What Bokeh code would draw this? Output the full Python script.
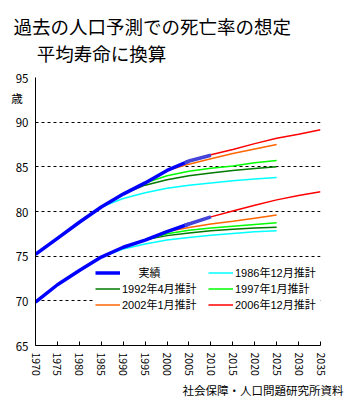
from bokeh.plotting import figure
from bokeh.models import Legend, LegendItem, FixedTicker, Title
from bokeh.embed import file_html
from bokeh.resources import INLINE

# ---- data ----
ACT_YEARS = [1970, 1975, 1980, 1985, 1990, 1995, 2000, 2005]
ACT_FEMALE = [75.2, 77.0, 78.8, 80.5, 81.95, 83.2, 84.6, 85.65]
ACT_MALE = [69.85, 71.8, 73.4, 74.9, 76.0, 76.8, 77.75, 78.6]
RECENT_YEARS = [2004, 2005, 2010]
RECENT_FEMALE = [85.45, 85.65, 86.3]
RECENT_MALE = [78.45, 78.6, 79.4]

P1986_YEARS = [1985, 1990, 1995, 2000, 2005, 2010, 2015, 2020, 2025]
P1986_FEMALE = [80.5, 81.45, 82.1, 82.6, 82.95, 83.2, 83.45, 83.65, 83.8]
P1986_MALE = [74.9, 75.8, 76.35, 76.8, 77.1, 77.35, 77.55, 77.72, 77.85]

P1992_YEARS = [1990, 1995, 2000, 2005, 2010, 2015, 2020, 2025]
P1992_FEMALE = [81.95, 82.95, 83.55, 84.0, 84.3, 84.6, 84.8, 85.0]
P1992_MALE = [76.0, 76.85, 77.3, 77.6, 77.85, 78.0, 78.15, 78.25]

P1997_YEARS = [1995, 2000, 2005, 2010, 2015, 2020, 2025]
P1997_FEMALE = [83.2, 84.0, 84.5, 84.85, 85.1, 85.45, 85.7]
P1997_MALE = [76.8, 77.5, 77.9, 78.15, 78.35, 78.55, 78.75]

P2002_YEARS = [2000, 2005, 2010, 2015, 2020, 2025]
P2002_FEMALE = [84.6, 85.3, 85.9, 86.5, 87.0, 87.5]
P2002_MALE = [77.75, 78.2, 78.6, 78.9, 79.25, 79.6]

P2006_YEARS = [2005, 2010, 2015, 2020, 2025, 2030, 2035]
P2006_FEMALE = [85.65, 86.35, 86.95, 87.6, 88.2, 88.65, 89.15]
P2006_MALE = [78.6, 79.4, 80.05, 80.7, 81.3, 81.8, 82.2]

X_TICKS = list(range(1970, 2036, 5))
Y_TICKS = [65, 70, 75, 80, 85, 90, 95]
UNIT_LEVEL = 92.65          # vertical place of the unit text on the y axis

LABEL_ACT = "\u3000\u2002実績"
LABEL_1986 = "1986年12月推計"
LABEL_1992 = "1992年4月推計"
LABEL_1997 = "1997年1月推計"
LABEL_2002 = "2002年1月推計"
LABEL_2006 = "2006年12月推計"

TITLE1 = "過去の人口予測での死亡率の想定"
TITLE2 = "平均寿命に換算"
UNIT = "歳"
SOURCE = "社会保障・人口問題研究所資料"

FONT = "Noto Sans CJK JP"
LEGEND_FONT = "Liberation Sans, Noto Sans CJK JP"

p = figure(frame_width=285, frame_height=268,
           min_border_left=35, min_border_right=42,
           min_border_top=77, min_border_bottom=55,
           x_range=(1970, 2035), y_range=(65, 95),
           output_backend="svg", toolbar_location=None)
p.outline_line_color = None
p.background_fill_color = "white"
p.border_fill_color = "white"

p.xgrid.grid_line_color = None
p.ygrid.grid_line_color = "black"
p.ygrid.grid_line_dash = "3 3"
p.ygrid.grid_line_width = 1
p.ygrid.ticker = FixedTicker(ticks=Y_TICKS)

p.xaxis.ticker = FixedTicker(ticks=X_TICKS)
p.yaxis.ticker = FixedTicker(ticks=Y_TICKS + [UNIT_LEVEL])
p.yaxis.major_label_overrides = {UNIT_LEVEL: UNIT + "\u2002"}
for ax in (p.xaxis[0], p.yaxis[0]):
    ax.axis_line_color = "black"
    ax.axis_line_width = 1
    ax.major_tick_line_color = "black"
    ax.major_tick_out = 0
    ax.minor_tick_line_color = None
    ax.major_label_text_font = FONT
    ax.major_label_text_color = "black"
p.xaxis.major_tick_in = 4
p.yaxis.major_tick_in = 0
p.xaxis.major_label_orientation = "vertical"
p.xaxis.major_label_text_font_size = "10.5px"
p.xaxis.major_label_standoff = 7
p.yaxis.major_label_text_font_size = "11.5px"
p.yaxis.major_label_standoff = 7

series = [
    (P1986_YEARS, P1986_FEMALE, P1986_MALE, "#00FFFF", LABEL_1986),
    (P1992_YEARS, P1992_FEMALE, P1992_MALE, "#007A00", LABEL_1992),
    (P1997_YEARS, P1997_FEMALE, P1997_MALE, "#00FF00", LABEL_1997),
    (P2002_YEARS, P2002_FEMALE, P2002_MALE, "#FF6600", LABEL_2002),
    (P2006_YEARS, P2006_FEMALE, P2006_MALE, "#FF0000", LABEL_2006),
]
renderers = {}
for yrs, fem, mal, col, lab in series:
    r = p.line(yrs, fem, line_color=col, line_width=1.5)
    p.line(yrs, mal, line_color=col, line_width=1.5)
    renderers[lab] = r

ra = p.line(ACT_YEARS, ACT_FEMALE, line_color="#0000FF", line_width=3.5)
p.line(ACT_YEARS, ACT_MALE, line_color="#0000FF", line_width=3.5)
p.line(RECENT_YEARS, RECENT_FEMALE, line_color="#4444D8", line_width=3.5)
p.line(RECENT_YEARS, RECENT_MALE, line_color="#4444D8", line_width=3.5)
renderers[LABEL_ACT] = ra

# legend is laid out column by column
order = [LABEL_ACT, LABEL_1992, LABEL_2002, LABEL_1986, LABEL_1997, LABEL_2006]
items = [LegendItem(label=l, renderers=[renderers[l]]) for l in order]
legend = Legend(items=items, ncols=2, location=(60, 33),
                background_fill_color="white", background_fill_alpha=1,
                border_line_color=None, padding=6, margin=0, spacing=0,
                glyph_width=25, glyph_height=11, label_height=11,
                label_width=86, label_standoff=2,
                label_text_font=LEGEND_FONT, label_text_font_size="11px",
                label_text_color="black")
p.add_layout(legend, "center")

# two-line title
p.title.text = TITLE1 + "\n" + "\u3000\u2005" + TITLE2
p.title.align = "left"
p.title.offset = -22
p.title.standoff = 22
p.title.text_font = FONT
p.title.text_font_size = "18.5px"
p.title.text_font_style = "normal"
p.title.text_line_height = 1.04
p.title.text_color = "black"

src = Title(text=SOURCE, align="left", offset=147, standoff=3, text_font=FONT,
            text_font_size="11.5px", text_font_style="normal", text_color="black")
p.add_layout(src, "below")

open("out.html", "w").write(file_html(p, INLINE))
